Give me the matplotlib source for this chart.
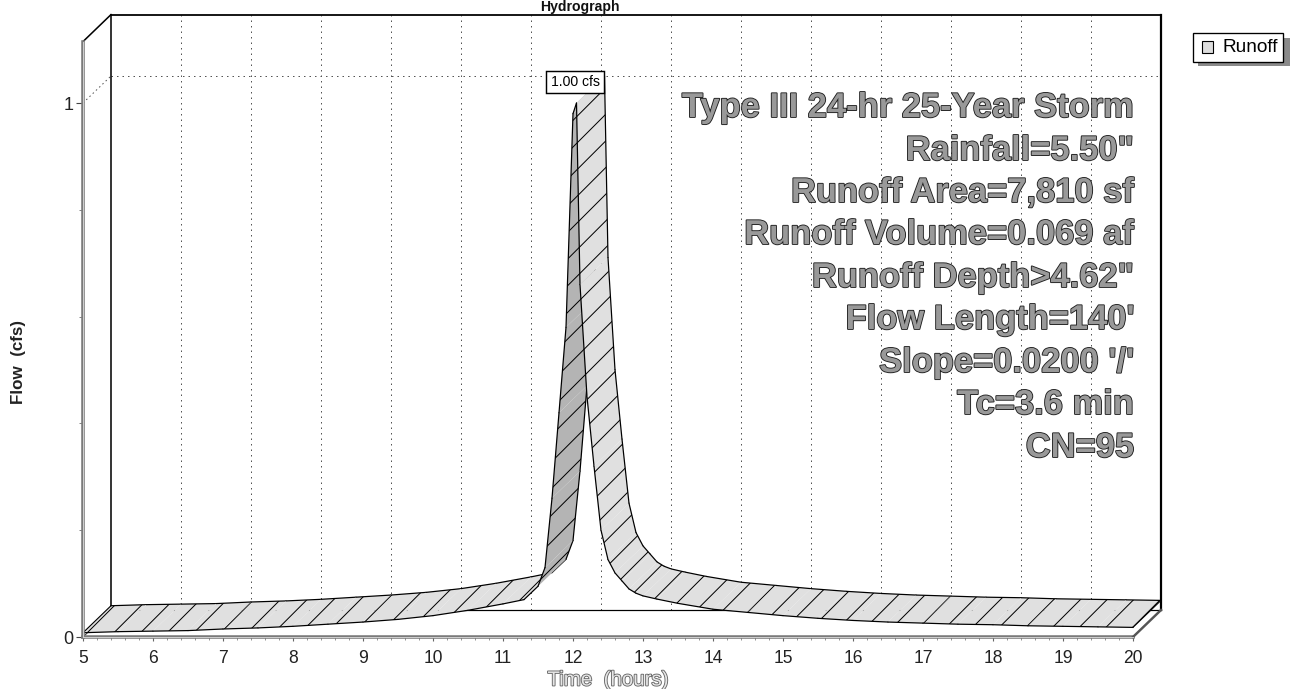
import matplotlib
matplotlib.use('Agg')
import matplotlib.pyplot as plt
import matplotlib.patheffects as pe
from matplotlib.patches import Polygon, Rectangle
from matplotlib.lines import Line2D
from matplotlib.ticker import MultipleLocator

# ---------------- data ----------------
time_hr = [5.0, 5.5, 6.0, 6.5, 7.0, 7.5, 8.0, 8.5, 9.0, 9.5, 10.0, 10.5, 11.0, 11.3,
           11.5, 11.6, 11.7, 11.8, 11.9, 12.0, 12.05, 12.1, 12.2, 12.3, 12.4, 12.5,
           12.6, 12.7, 12.8, 12.9, 13.0, 13.2, 13.5, 14.0, 14.5, 15.0, 15.5, 16.0,
           16.5, 17.0, 17.5, 18.0, 18.5, 19.0, 19.5, 20.0]
flow_cfs = [0.008, 0.010, 0.011, 0.012, 0.015, 0.017, 0.020, 0.024, 0.028, 0.033, 0.040,
            0.050, 0.062, 0.070, 0.095, 0.13, 0.26, 0.42, 0.58, 0.98, 1.00, 0.66, 0.45,
            0.32, 0.20, 0.145, 0.12, 0.105, 0.09, 0.082, 0.077, 0.071, 0.063, 0.052,
            0.046, 0.040, 0.035, 0.031, 0.028, 0.026, 0.024, 0.023, 0.021, 0.020,
            0.019, 0.018]
x_ticks = list(range(5, 21))
y_ticks = [0, 1]
y_minor_step = 0.2
x_minor_step = 0.2
peak_label = "1.00 cfs"
title_text = "Hydrograph"
x_label = "Time  (hours)"
y_label = "Flow  (cfs)"
legend_label = "Runoff"
info_lines = ["Type III 24-hr 25-Year Storm",
              'Rainfall=5.50"',
              "Runoff Area=7,810 sf",
              "Runoff Volume=0.069 af",
              'Runoff Depth>4.62"',
              "Flow Length=140'",
              "Slope=0.0200 '/'",
              "Tc=3.6 min",
              "CN=95"]

# ---------------- layout helpers ----------------
W, H, DPI = 1294, 689, 80
def pt(px):
    return px * 72.0 / DPI
def fx(x):
    return x / W
def fy(y):
    return 1 - y / H

FONT = "Liberation Sans"
plt.rcParams['font.family'] = [FONT, 'DejaVu Sans']
plt.rcParams['hatch.linewidth'] = 0.9

fig = plt.figure(figsize=(W / DPI, H / DPI), dpi=DPI)
fig.patch.set_facecolor('white')

X0, X1 = 83, 1133
Y0, PXU = 637, 534
XMIN, XMAX = 5, 20
YTOP = 1.115
ax = fig.add_axes([fx(X0), (H - Y0) / H, (X1 - X0) / W, YTOP * PXU / H])
ax.set_xlim(XMIN, XMAX)
ax.set_ylim(0, YTOP)
for s in ax.spines.values():
    s.set_visible(False)
ax.patch.set_alpha(0)

DX = 28 / ((X1 - X0) / (XMAX - XMIN))
DY = 27 / PXU

# back wall
ax.add_patch(Polygon([(XMIN + DX, DY), (XMAX + DX, DY), (XMAX + DX, YTOP + DY), (XMIN + DX, YTOP + DY)],
                     closed=True, facecolor='white', edgecolor='none', zorder=0.5, clip_on=False))

def L(xs, ys, **kw):
    kw.setdefault('clip_on', False)
    ax.add_line(Line2D(xs, ys, **kw))

# grid on back wall
for t in x_ticks[1:-1]:
    L([t + DX, t + DX], [DY, YTOP + DY], color='#555555', lw=0.9, ls=(0, (1.5, 4)), zorder=1)
L([XMIN + DX, XMAX + DX], [1 + DY, 1 + DY], color='#555555', lw=0.9, ls=(0, (1.5, 4)), zorder=1)
L([XMIN, XMIN + DX], [1, 1 + DY], color='#555555', lw=0.9, ls=(0, (1.5, 3)), zorder=1)

# frame of box
L([XMIN + DX, XMAX + DX], [YTOP + DY, YTOP + DY], color='black', lw=1.6, zorder=2)
L([XMIN + DX, XMIN + DX], [DY, YTOP + DY], color='black', lw=1.4, zorder=2)
L([XMAX + DX, XMAX + DX], [DY, YTOP + DY], color='black', lw=2.0, zorder=2)
L([XMIN, XMIN + DX], [YTOP, YTOP + DY], color='black', lw=1.4, zorder=2)
L([XMIN + DX, XMAX + DX], [DY, DY], color='black', lw=1.1, zorder=2)
L([XMIN, XMIN + DX], [0, DY], color='#444444', lw=1.0, zorder=2)

# ---------------- ribbon ----------------
n = len(time_hr)
sx = (X1 - X0) / (XMAX - XMIN)
for i in range(n - 1):
    t0, q0 = time_hr[i], flow_cfs[i]
    t1, q1 = time_hr[i + 1], flow_cfs[i + 1]
    vx = (t1 - t0) * sx
    vy = (q1 - q0) * PXU
    cross = vx * 27 - vy * 28
    fc = '#e0e0e0' if cross >= 0 else '#b4b4b4'
    z = 3 + i * 0.01
    poly = [(t0, q0), (t1, q1), (t1 + DX, q1 + DY), (t0 + DX, q0 + DY)]
    ax.add_patch(Polygon(poly, closed=True, facecolor=fc, edgecolor='black', lw=0,
                         hatch='/', zorder=z, clip_on=False))
    L([t0, t1], [q0, q1], color='black', lw=1.1, zorder=z + 0.005, solid_capstyle='round')
    L([t0 + DX, t1 + DX], [q0 + DY, q1 + DY], color='black', lw=1.1, zorder=z + 0.005,
      solid_capstyle='round')
# end caps
L([time_hr[0], time_hr[0] + DX], [flow_cfs[0], flow_cfs[0] + DY], color='black', lw=1.0, zorder=4)
L([time_hr[-1], time_hr[-1] + DX], [flow_cfs[-1], flow_cfs[-1] + DY], color='black', lw=1.0, zorder=4)

# front axes lines and floor edge
L([XMIN, XMAX], [0, 0], color='#7a7a7a', lw=3.2, zorder=5)
L([XMIN, XMAX], [0, 0], color='#d8d8d8', lw=0.8, zorder=5.1)
L([XMIN, XMIN], [0, YTOP], color='#7a7a7a', lw=3.2, zorder=5)
L([XMIN, XMIN], [0, YTOP], color='#d8d8d8', lw=0.8, zorder=5.1)
L([XMAX, XMAX + DX], [0, DY], color='#555555', lw=2.2, zorder=5)

# ticks
ax.set_xticks(x_ticks)
ax.set_xticklabels([str(t) for t in x_ticks])
ax.xaxis.set_minor_locator(MultipleLocator(x_minor_step))
ax.set_yticks(y_ticks)
ax.set_yticklabels([str(v) for v in y_ticks])
ax.yaxis.set_minor_locator(MultipleLocator(y_minor_step))
ax.tick_params(axis='x', which='major', length=4, width=1, color='#666666', pad=pt(9),
               labelsize=pt(17.5), labelcolor='#222222', direction='out')
ax.tick_params(axis='x', which='minor', length=3, width=0.8, color='#888888', direction='out')
ax.tick_params(axis='y', which='major', length=6, width=1, color='#444444', pad=pt(3),
               labelsize=pt(18), labelcolor='#222222', direction='out')
ax.tick_params(axis='y', which='minor', length=4, width=0.8, color='#777777', direction='out')

# peak label
ipk = flow_cfs.index(max(flow_cfs))
ax.text(time_hr[ipk] - 0.02, flow_cfs[ipk] + 21 / PXU, peak_label, ha='center', va='center',
        fontsize=pt(14), color='black', zorder=20, clip_on=False,
        bbox=dict(boxstyle='square,pad=0.3', facecolor='white', edgecolor='black', lw=1.3))

# info text block
ys = [105, 148, 190, 232, 275, 317, 360, 402, 445]
for txt, y in zip(info_lines, ys):
    fig.text(fx(1134), fy(y + 12), txt, ha='right', va='baseline', fontsize=pt(34.5),
             fontweight='bold', color='#999999', zorder=30,
             path_effects=[pe.Stroke(linewidth=1.6, foreground='#1e1e1e'), pe.Normal()])

# axis labels
fig.text(fx(608), fy(680), x_label, ha='center', va='center', fontsize=pt(20.5),
         color='#e6e6e6', path_effects=[pe.Stroke(linewidth=1.6, foreground='#666666'), pe.Normal()])
fig.text(fx(19), fy(362), y_label, ha='center', va='center', rotation=90, fontsize=pt(17),
         fontweight='bold', color='#222222')

# title (at the very top, just above the chart box)
fig.text(fx(580), fy(11), title_text, ha='center', va='baseline', fontsize=pt(14),
         fontweight='bold', color='#111111')

# legend
fig.patches.append(Rectangle((fx(1198), fy(66)), (1290 - 1198) / W, (66 - 38) / H,
                             transform=fig.transFigure, facecolor='#8a8a8a', edgecolor='none'))
fig.patches.append(Rectangle((fx(1193), fy(62)), (1283 - 1193) / W, (62 - 33) / H,
                             transform=fig.transFigure, facecolor='white', edgecolor='black', lw=1.2))
fig.patches.append(Rectangle((fx(1202), fy(53)), (1213 - 1202) / W, (53 - 41) / H,
                             transform=fig.transFigure, facecolor='#dddddd', edgecolor='black', lw=1.0))
fig.text(fx(1222), fy(47), legend_label, ha='left', va='center', fontsize=pt(19), color='black')

fig.savefig('out.png', dpi=DPI, facecolor='white')
